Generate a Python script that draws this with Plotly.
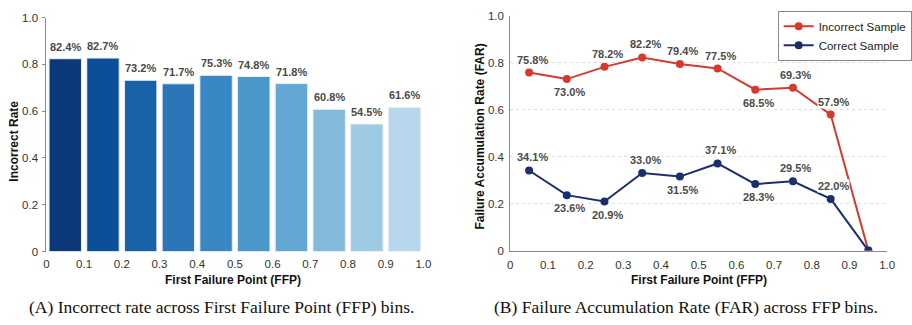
import plotly.graph_objects as go

# ---- data ----
bin_edges = [0, 0.1, 0.2, 0.3, 0.4, 0.5, 0.6, 0.7, 0.8, 0.9, 1.0]
tick_labels = ["0", "0.1", "0.2", "0.3", "0.4", "0.5", "0.6", "0.7", "0.8", "0.9", "1.0"]
bin_centers = [0.05, 0.15, 0.25, 0.35, 0.45, 0.55, 0.65, 0.75, 0.85, 0.95]
incorrect_rate = [0.824, 0.827, 0.732, 0.717, 0.753, 0.748, 0.718, 0.608, 0.545, 0.616]
far_incorrect = [0.758, 0.730, 0.782, 0.822, 0.794, 0.775, 0.685, 0.693, 0.579, 0.0]
far_correct = [0.341, 0.236, 0.209, 0.330, 0.315, 0.371, 0.283, 0.295, 0.220, 0.0]
inc_label_pos = ["above", "below", "above", "above", "above", "above", "below", "above", "above", None]
cor_label_pos = ["above", "below", "below", "above", "below", "above", "below", "above", "above", None]
y_ticks = [0, 0.2, 0.4, 0.6, 0.8, 1.0]
y_tick_labels = ["0", "0.2", "0.4", "0.6", "0.8", "1.0"]

bar_colors = ["#0a3878", "#0b4f98", "#1862a8", "#2a76b8", "#3a88c3", "#4a97ca",
              "#63a8d4", "#83badc", "#9fcae3", "#b8d7ec"]
RED = "#d63a2f"
NAVY = "#1b2f6e"
LABEL_C = "#4a4a4a"
FONT = "Liberation Sans"

W, H = 912, 325
fig = go.Figure()

fig.add_trace(go.Bar(
    x=bin_centers, y=incorrect_rate, width=0.086,
    marker=dict(color=bar_colors, line=dict(color="#e8eef6", width=1)),
    xaxis="x", yaxis="y", showlegend=False, hoverinfo="skip"))

fig.add_trace(go.Scatter(
    x=bin_centers, y=far_incorrect, mode="lines+markers", name="Incorrect Sample",
    line=dict(color=RED, width=2), marker=dict(color=RED, size=8),
    xaxis="x2", yaxis="y2"))
fig.add_trace(go.Scatter(
    x=bin_centers, y=far_correct, mode="lines+markers", name="Correct Sample",
    line=dict(color=NAVY, width=2), marker=dict(color=NAVY, size=8),
    xaxis="x2", yaxis="y2"))

ann = []
for xc, v in zip(bin_centers, incorrect_rate):
    ann.append(dict(x=xc, y=v, xref="x", yref="y", text=f"{v*100:.1f}%", showarrow=False,
                    xanchor="center", yanchor="middle",
                    yshift=12, font=dict(family=FONT, size=11, color=LABEL_C, weight="bold")))
for series, pos in ((far_incorrect, inc_label_pos), (far_correct, cor_label_pos)):
    for xc, v, p in zip(bin_centers, series, pos):
        if p is None:
            continue
        ann.append(dict(x=xc, y=v, xref="x2", yref="y2", text=f"{v*100:.1f}%", showarrow=False,
                        xanchor="center", yanchor="middle",
                        yshift=13 if p == "above" else -13, xshift=3,
                        bgcolor="white", borderpad=0,
                        font=dict(family=FONT, size=11, color=LABEL_C, weight="bold")))

# axis titles and captions
def pann(x, y, text, size, bold=True, family=FONT, angle=0):
    f = dict(family=family, size=size, color="#111")
    if bold:
        f["weight"] = "bold"
    return dict(x=x / W, y=1 - y / H, xref="paper", yref="paper", text=text, showarrow=False,
                xanchor="center", yanchor="middle", textangle=angle, font=f)

ann += [
    pann(233, 285, "First Failure Point (FFP)", 12),
    pann(705, 285, "First Failure Point (FFP)", 12),
    pann(11, 140, "Incorrect Rate", 12, angle=-90),
    pann(483, 136, "Failure Accumulation Rate (FAR)", 12, angle=-90),
    pann(221, 313, "(A) Incorrect rate across First Failure Point (FFP) bins.", 17.5, bold=False,
         family="Liberation Serif"),
    pann(692, 313, "(B) Failure Accumulation Rate (FAR) across FFP bins.", 17.5, bold=False,
         family="Liberation Serif"),
]

tickfont = dict(family=FONT, size=11.5, color="#333")
fig.update_layout(
    width=W, height=H, margin=dict(l=0, r=0, t=0, b=0),
    paper_bgcolor="white", plot_bgcolor="white",
    annotations=ann,
    xaxis=dict(domain=[44 / W, 426 / W], range=[0, 1.0], tickvals=bin_edges, ticktext=tick_labels,
               showgrid=False, zeroline=False, showline=False, ticks="", tickfont=tickfont,
               ticklabelstandoff=4),
    yaxis=dict(domain=[1 - 255 / H, 1 - 12 / H], range=[0, 1.0], tickvals=y_ticks, ticktext=y_tick_labels,
               showgrid=False, zeroline=False, showline=True, linecolor="#888", linewidth=1,
               ticks="outside", ticklen=3, tickcolor="#888", tickfont=tickfont, ticklabelstandoff=2),
    xaxis2=dict(domain=[514 / W, 896 / W], range=[0, 1.0], tickvals=bin_edges, ticktext=tick_labels,
                showgrid=False, zeroline=False, showline=True, linecolor="#888", linewidth=1,
                ticks="", tickfont=tickfont, anchor="y2", ticklabelstandoff=4),
    yaxis2=dict(domain=[1 - 254 / H, 1 - 10 / H], range=[0, 1.0], tickvals=y_ticks, ticktext=y_tick_labels,
                showgrid=True, gridcolor="#dddddd", griddash="dot", gridwidth=1,
                zeroline=False, showline=True, linecolor="#888", linewidth=1,
                ticks="", tickfont=tickfont, anchor="x2", ticklabelstandoff=3),
    legend=dict(x=785 / W, y=1 - 5 / H, xanchor="left", yanchor="top",
                bordercolor="#888", borderwidth=1, bgcolor="white",
                font=dict(family=FONT, size=11.5, color="#222"), tracegroupgap=0),
)

fig.write_html("out.html")
